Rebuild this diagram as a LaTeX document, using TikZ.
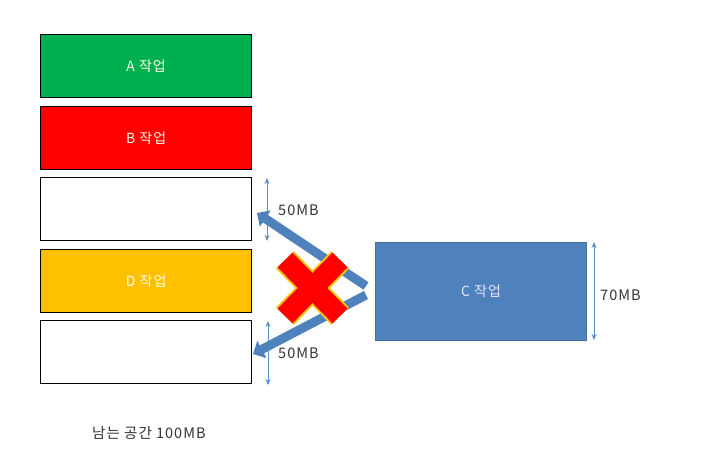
\documentclass[tikz,border=0pt]{standalone}
\usepackage{fontspec}
\setmainfont[LetterSpace=7]{Noto Sans CJK KR}
\usetikzlibrary{arrows.meta}
\definecolor{cgreen}{HTML}{00B050}
\definecolor{cred}{HTML}{FF0000}
\definecolor{cyel}{HTML}{FFC000}
\definecolor{cblue}{HTML}{4F81BD}
\definecolor{cbluedark}{HTML}{41719C}
\definecolor{aro}{HTML}{5B8EC5}
\begin{document}
\begin{tikzpicture}[x=1pt,y=-1pt,
  mem/.style={draw=black,line width=1.3pt,minimum width=211pt,minimum height=63pt,inner sep=0pt,text=white!92!yellow,font=\fontsize{14}{16}\selectfont},
  dim/.style={draw=aro,line width=1pt,{Stealth[length=6pt,width=5pt]}-{Stealth[length=6pt,width=5pt]}},
  lbl/.style={font=\fontsize{14.5}{16}\selectfont,text=black!80,inner sep=0pt},
  big/.style={draw=cblue,line width=9pt,-{Triangle[length=10pt,width=19pt]}}
]
\useasboundingbox[fill=white] (0,0) rectangle (708,457);
\node[mem,fill=cgreen,anchor=north west] (A) at (40,34) {A 작업};
\node[mem,fill=cred,anchor=north west] (B) at (40,106) {B 작업};
\node[mem,fill=white,anchor=north west] (E1) at (40,177) {};
\node[mem,fill=cyel,anchor=north west] (D) at (40,249) {D 작업};
\node[mem,fill=white,anchor=north west] (E2) at (40,320) {};
\node[draw=cbluedark,line width=1pt,fill=cblue,minimum width=211pt,minimum height=98pt,inner sep=0pt,text=white!90!blue,font=\fontsize{14}{16}\selectfont,anchor=north west] (C) at (375,242) {C 작업};
% dimension arrows
\coordinate (t1) at (267,178); \coordinate (b1) at (267,241);
\draw[dim] (t1) -- (b1);
\node[lbl,anchor=west] (m1) at (278,210) {50MB};
\coordinate (t2) at (268,321); \coordinate (b2) at (268,385);
\draw[dim] (t2) -- (b2);
\node[lbl,anchor=west] (m2) at (278,353) {50MB};
\coordinate (t3) at (594,242); \coordinate (b3) at (594,340);
\draw[dim] (t3) -- (b3);
\node[lbl,anchor=west] (m3) at (600,295) {70MB};
% big arrows
\coordinate (s1) at (366,286); \coordinate (e1) at (257,213);
\coordinate (s2) at (366,295); \coordinate (e2) at (253,354);
\draw[big] (s1) -- (e1);
\draw[big] (s2) -- (e2);
% red X
\coordinate (x1) at (285,260); \coordinate (x2) at (340,316);
\coordinate (x3) at (340,260); \coordinate (x4) at (285,316);
\draw[line width=25pt,draw=yellow!60!orange] (x1) -- (x2);
\draw[line width=25pt,draw=yellow!60!orange] (x3) -- (x4);
\draw[line width=21pt,draw=cred] (x1) -- (x2);
\draw[line width=21pt,draw=cred] (x3) -- (x4);
\node[lbl,anchor=west] (rem) at (92,433) {남는 공간 100MB};
\end{tikzpicture}
\end{document}
